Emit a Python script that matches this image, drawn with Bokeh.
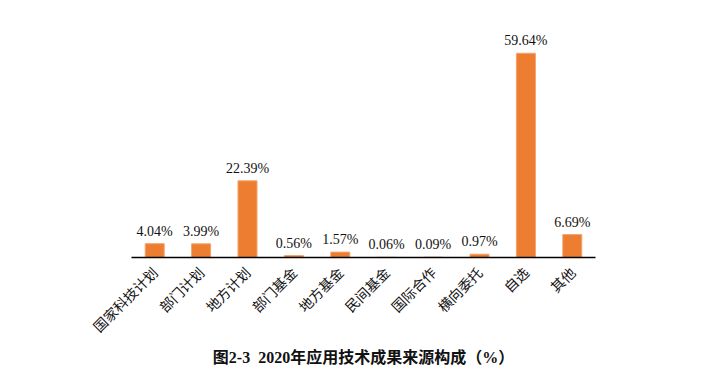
from bokeh.plotting import figure
from bokeh.models import ColumnDataSource, Title
from bokeh.core.properties import value
from bokeh.embed import file_html
from bokeh.resources import INLINE
import math

categories = ["国家科技计划", "部门计划", "地方计划", "部门基金", "地方基金",
              "民间基金", "国际合作", "横向委托", "自选", "其他"]
shares = [4.04, 3.99, 22.39, 0.56, 1.57, 0.06, 0.09, 0.97, 59.64, 6.69]
share_labels = ["%.2f%%" % v for v in shares]
title_text = "图2-3\u00a0\u00a02020年应用技术成果来源构成（%）"

src = ColumnDataSource(dict(cat=categories, val=shares, lab=share_labels))

p = figure(x_range=categories, y_range=(0, 66), width=691, height=369,
           output_backend="svg", toolbar_location=None,
           min_border_left=131, min_border_right=96,
           min_border_top=31, min_border_bottom=112)

p.vbar(x="cat", top="val", width=0.41, source=src,
       fill_color="#ED7D31", line_color="#F4A46E", line_width=1)

p.text(x="cat", y="val", text="lab", source=src,
       text_align="center", text_baseline="bottom", y_offset=-5,
       text_font=value("'Liberation Serif', 'Noto Sans CJK SC'"),
       text_font_size="14px", text_color="#111111")

p.yaxis.visible = False
p.xgrid.visible = False
p.ygrid.visible = False
p.outline_line_color = None
p.background_fill_color = "white"
p.border_fill_color = "white"

ax = p.xaxis[0]
ax.axis_line_color = "black"
ax.axis_line_width = 1.3
ax.major_tick_line_color = None
ax.minor_tick_line_color = None
ax.major_label_orientation = math.pi / 4
ax.major_label_text_font = "'Noto Sans CJK SC'"
ax.major_label_text_font_size = "14px"
ax.major_label_text_color = "#111111"
ax.major_label_standoff = 6

title = Title(text=title_text, align="center",
              text_font="'Liberation Serif', 'Noto Sans CJK SC'",
              text_font_size="16px", text_font_style="bold", text_color="#111111",
              standoff=0)
p.add_layout(title, "below")

open("out.html", "w").write(file_html(p, INLINE))
